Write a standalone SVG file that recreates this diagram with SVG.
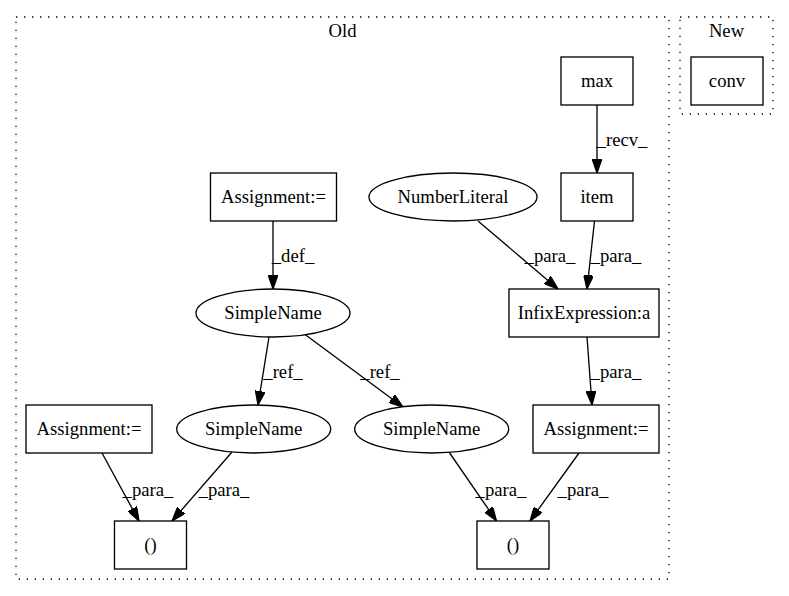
<svg xmlns="http://www.w3.org/2000/svg" width="789" height="596" viewBox="0 0 789 596">
<style>
text{font-family:"Liberation Serif","Times New Roman",serif;font-size:18.67px;fill:#000;text-anchor:middle}
.n{fill:#fff;stroke:#000;stroke-width:1.33}
.c{fill:none;stroke:#000;stroke-width:1.33;stroke-dasharray:1.33,6.67}
.e{stroke:#000;stroke-width:1.33;fill:none;marker-end:url(#ah)}
</style>
<defs>
<marker id="ah" viewBox="0 0 10 7" markerWidth="14" markerHeight="9.8" refX="10" refY="3.5" orient="auto" markerUnits="userSpaceOnUse">
<path d="M0,0 L10,3.5 L0,7 Z" fill="#000" stroke="#000" stroke-width="0.9"/>
</marker>
</defs>
<rect width="789" height="596" fill="#fff"/>
<g id="cluster_old">
<rect class="c" x="16" y="17" width="653" height="562"/>
<text x="342.5" y="37">Old</text>
</g>
<g id="cluster_new">
<rect class="c" x="680" y="17" width="93" height="97"/>
<text x="726.5" y="37">New</text>
</g>
<g id="edges">
<line class="e" x1="597" y1="105" x2="597" y2="173"/>
<text x="622" y="146">_recv_</text>
<line class="e" x1="478" y1="221" x2="558" y2="289"/>
<text x="550" y="262">_para_</text>
<line class="e" x1="594.5" y1="221" x2="587" y2="289"/>
<text x="616" y="262">_para_</text>
<line class="e" x1="587" y1="337" x2="592" y2="405"/>
<text x="616" y="378">_para_</text>
<line class="e" x1="273" y1="221" x2="273" y2="289"/>
<text x="293" y="262">_def_</text>
<line class="e" x1="269" y1="337" x2="258" y2="405"/>
<text x="283" y="378">_ref_</text>
<line class="e" x1="303" y1="333" x2="403" y2="407"/>
<text x="380" y="378">_ref_</text>
<line class="e" x1="102" y1="453" x2="139" y2="521"/>
<text x="148" y="496">_para_</text>
<line class="e" x1="232" y1="452" x2="172" y2="521"/>
<text x="224" y="496">_para_</text>
<line class="e" x1="449" y1="452" x2="496.5" y2="521"/>
<text x="501" y="496">_para_</text>
<line class="e" x1="579" y1="453" x2="530" y2="521"/>
<text x="583" y="496">_para_</text>
</g>
<g id="max"><rect class="n" x="561" y="57" width="72" height="48"/><text x="597" y="87">max</text></g>
<g id="conv"><rect class="n" x="691" y="57" width="72" height="48"/><text x="727" y="87">conv</text></g>
<g id="assign_top"><rect class="n" x="210.5" y="173" width="126" height="48"/><text x="273.5" y="203">Assignment:=</text></g>
<g id="numberliteral"><ellipse class="n" cx="453" cy="197" rx="84" ry="24"/><text x="453" y="203">NumberLiteral</text></g>
<g id="item"><rect class="n" x="561" y="173" width="72" height="48"/><text x="597" y="203">item</text></g>
<g id="simplename_mid"><ellipse class="n" cx="273" cy="313" rx="77" ry="24"/><text x="273" y="319">SimpleName</text></g>
<g id="infix"><rect class="n" x="509" y="289" width="150" height="48"/><text x="584" y="319">InfixExpression:a</text></g>
<g id="assign_left"><rect class="n" x="26" y="405" width="126" height="48"/><text x="89" y="435">Assignment:=</text></g>
<g id="simplename_left"><ellipse class="n" cx="253.7" cy="429" rx="77" ry="24"/><text x="253.7" y="435">SimpleName</text></g>
<g id="simplename_right"><ellipse class="n" cx="431.7" cy="429" rx="77" ry="24"/><text x="431.7" y="435">SimpleName</text></g>
<g id="assign_right"><rect class="n" x="533" y="405" width="126" height="48"/><text x="596" y="435">Assignment:=</text></g>
<g id="paren_left"><rect class="n" x="114.5" y="521" width="72" height="48"/><text x="150.5" y="551">()</text></g>
<g id="paren_right"><rect class="n" x="477" y="521" width="72" height="48"/><text x="513" y="551">()</text></g>
</svg>
